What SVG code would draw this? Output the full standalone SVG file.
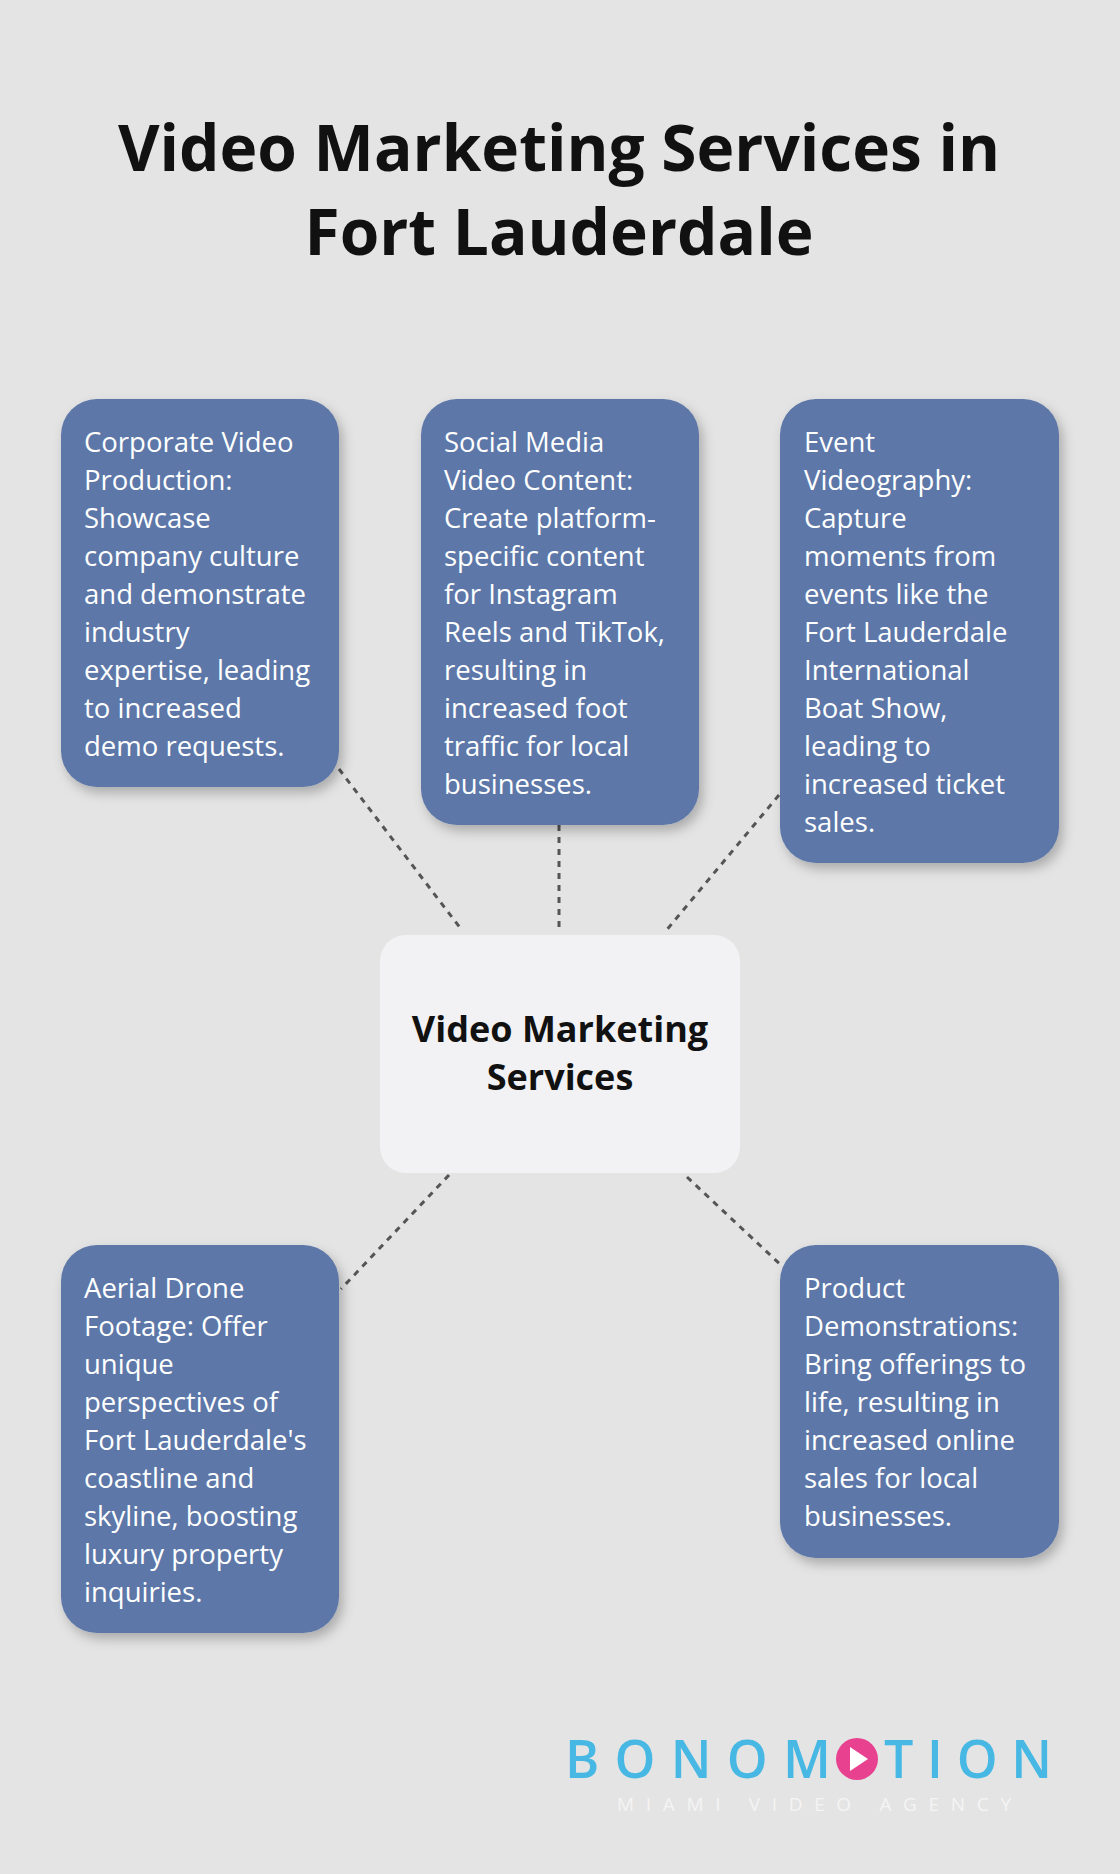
<svg xmlns="http://www.w3.org/2000/svg" width="1120" height="1874" viewBox="0 0 1120 1874">
<defs>
<filter id="sh" x="-20%" y="-20%" width="140%" height="140%"><feDropShadow dx="4" dy="6" stdDeviation="6" flood-color="#000" flood-opacity="0.25"/></filter>
<style>
.box{fill:#5b77a8;filter:url(#sh)}
.bt{font-family:"Open Sans",sans-serif;font-size:27.5px;fill:#fff}
.con{stroke:#555;stroke-width:3;stroke-dasharray:6 6;fill:none}
</style>
</defs>
<rect width="1120" height="1874" fill="#e4e4e4"/>
<g id="title" font-family="Open Sans,sans-serif" font-weight="bold" font-size="64" fill="#111" text-anchor="middle">
<text x="559" y="171">Video Marketing Services in</text>
<text x="559" y="255">Fort Lauderdale</text>
</g>
<g id="connectors">
<line class="con" x1="339" y1="769" x2="461" y2="929"/>
<line class="con" x1="559" y1="825" x2="559" y2="929"/>
<line class="con" x1="779" y1="795" x2="665" y2="932"/>
<line class="con" x1="449" y1="1175" x2="341" y2="1289"/>
<line class="con" x1="687" y1="1177" x2="783" y2="1267"/>
</g>
<g id="n1"><rect class="box" x="61" y="399" width="278" height="388" rx="36"/>
<text class="bt" x="84"><tspan x="84" y="452">Corporate Video</tspan><tspan x="84" dy="38">Production:</tspan><tspan x="84" dy="38">Showcase</tspan><tspan x="84" dy="38">company culture</tspan><tspan x="84" dy="38">and demonstrate</tspan><tspan x="84" dy="38">industry</tspan><tspan x="84" dy="38">expertise, leading</tspan><tspan x="84" dy="38">to increased</tspan><tspan x="84" dy="38">demo requests.</tspan></text></g>
<g id="n2"><rect class="box" x="421" y="399" width="278" height="426" rx="36"/>
<text class="bt"><tspan x="444" y="452">Social Media</tspan><tspan x="444" dy="38">Video Content:</tspan><tspan x="444" dy="38">Create platform-</tspan><tspan x="444" dy="38">specific content</tspan><tspan x="444" dy="38">for Instagram</tspan><tspan x="444" dy="38">Reels and TikTok,</tspan><tspan x="444" dy="38">resulting in</tspan><tspan x="444" dy="38">increased foot</tspan><tspan x="444" dy="38">traffic for local</tspan><tspan x="444" dy="38">businesses.</tspan></text></g>
<g id="n3"><rect class="box" x="780" y="399" width="279" height="464" rx="36"/>
<text class="bt"><tspan x="804" y="452">Event</tspan><tspan x="804" dy="38">Videography:</tspan><tspan x="804" dy="38">Capture</tspan><tspan x="804" dy="38">moments from</tspan><tspan x="804" dy="38">events like the</tspan><tspan x="804" dy="38">Fort Lauderdale</tspan><tspan x="804" dy="38">International</tspan><tspan x="804" dy="38">Boat Show,</tspan><tspan x="804" dy="38">leading to</tspan><tspan x="804" dy="38">increased ticket</tspan><tspan x="804" dy="38">sales.</tspan></text></g>
<g id="center"><rect x="380" y="935" width="360" height="238" rx="26" fill="#f2f2f4"/>
<text font-family="Open Sans,sans-serif" font-weight="bold" font-size="36" fill="#111" text-anchor="middle"><tspan x="560" y="1042">Video Marketing</tspan><tspan x="560" y="1090">Services</tspan></text></g>
<g id="n4"><rect class="box" x="61" y="1245" width="278" height="388" rx="36"/>
<text class="bt"><tspan x="84" y="1298">Aerial Drone</tspan><tspan x="84" dy="38">Footage: Offer</tspan><tspan x="84" dy="38">unique</tspan><tspan x="84" dy="38">perspectives of</tspan><tspan x="84" dy="38">Fort Lauderdale's</tspan><tspan x="84" dy="38">coastline and</tspan><tspan x="84" dy="38">skyline, boosting</tspan><tspan x="84" dy="38">luxury property</tspan><tspan x="84" dy="38">inquiries.</tspan></text></g>
<g id="n5"><rect class="box" x="780" y="1245" width="279" height="313" rx="36"/>
<text class="bt"><tspan x="804" y="1298">Product</tspan><tspan x="804" dy="38">Demonstrations:</tspan><tspan x="804" dy="38">Bring offerings to</tspan><tspan x="804" dy="38">life, resulting in</tspan><tspan x="804" dy="38">increased online</tspan><tspan x="804" dy="38">sales for local</tspan><tspan x="804" dy="38">businesses.</tspan></text></g>
<g id="logo" font-family="Open Sans,sans-serif">
<text x="565" y="1778" font-size="52" font-weight="600" fill="#46b8e3" textLength="266" lengthAdjust="spacing">BONOM</text>
<circle cx="857" cy="1759" r="21" fill="#e8418f"/>
<polygon points="850,1747 850,1771 868,1759" fill="#fff"/>
<text x="884" y="1778" font-size="52" font-weight="600" fill="#46b8e3" textLength="168" lengthAdjust="spacing">TION</text>
<text x="617" y="1811" font-size="19" fill="#f4f4f4" textLength="394" lengthAdjust="spacing">MIAMI VIDEO AGENCY</text>
</g>
</svg>
